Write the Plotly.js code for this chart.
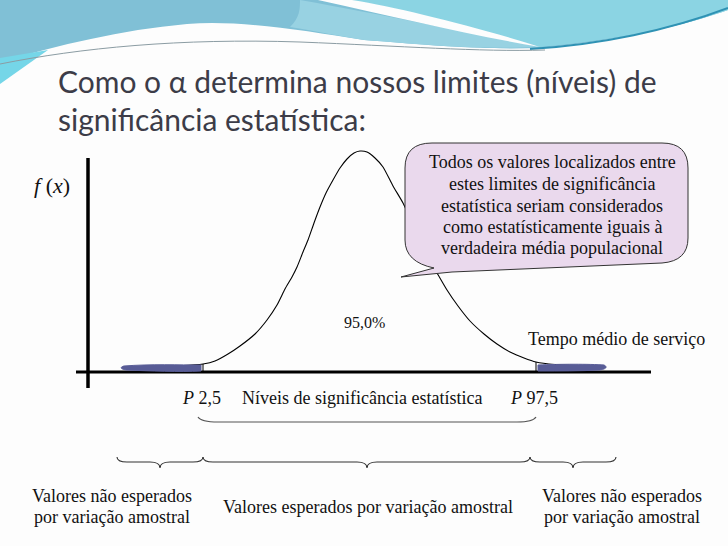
<!DOCTYPE html>
<html>
<head>
<meta charset="utf-8">
<script src="https://cdn.plot.ly/plotly-3.0.1.min.js"></script>
<style>html,body{margin:0;padding:0;background:#fdfdfd;}#chart{width:728px;height:546px;}</style>
</head>
<body>
<div id="chart"></div>
<script>
// ---- Data (x: tempo, arbitrary units; y: f(x)) ----
const curveX = [3.5, 5.2, 7.2, 9.2, 11.5, 12.7, 14.0, 15.2, 16.7, 17.9, 18.9, 19.7, 20.4, 20.9, 21.5, 22.0, 22.6, 23.2, 23.8, 24.5, 25.2, 25.9, 26.6, 27.2,
                27.9, 28.7, 29.5, 30.5, 31.5, 32.5, 33.4, 34.2, 34.9, 35.9, 37.0, 38.2, 39.6, 40.9, 42.2, 43.6, 44.8, 46.7, 48.7, 51.2];
const curveY = [0.005, 0.0052, 0.0055, 0.0062, 0.008, 0.011, 0.018, 0.026, 0.038, 0.052, 0.067, 0.083, 0.095, 0.105, 0.120, 0.132, 0.149, 0.165, 0.179, 0.192, 0.204, 0.213, 0.219, 0.221,
                0.220, 0.214, 0.205, 0.186, 0.169, 0.147, 0.127, 0.110, 0.099, 0.082, 0.066, 0.051, 0.038, 0.028, 0.020, 0.014, 0.010, 0.0075, 0.0065, 0.006];
const limitX = [11.5, 44.8];          // P 2,5 and P 97,5
const limitY = [0.008, 0.010];
const limitLabels = ["<i>P</i> 2,5", "<i>P</i> 97,5"];
const centerPct = "95,0%";
const titleLines = ["Como o α determina nossos limites (níveis) de", "significância estatística:"];
const calloutLines = ["Todos os valores localizados entre", "estes limites de significância", "estatística seriam considerados", "como estatísticamente iguais à", "verdadeira média populacional"];
const axisXLabel = "Tempo médio de serviço";
const axisYLabel = "<i>f</i> (<i>x</i>)";
const levelsLabel = "Níveis de significância estatística";
const sideLabel = ["Valores não esperados", "por variação amostral"];
const middleLabel = "Valores esperados por variação amostral";

// ---- layout helpers: page pixel -> axis units ----
const X = px => (px - 88) / 10;
const Y = py => (372 - py) / 1000;
function path(cmds) {
  return cmds.map(c => {
    const L = c[0]; const out = [];
    for (let i = 1; i < c.length; i += 2) out.push(X(c[i]).toFixed(3) + ',' + Y(c[i + 1]).toFixed(4));
    return L + out.join(' ');
  }).join(' ');
}
function brace(a, b, m, y0, y1, y2) {
  return path([['M', a, y0], ['Q', a, y1, a + 10, y1], ['L', m - 10, y1], ['Q', m, y1, m, y2], ['Q', m, y1, m + 10, y1], ['L', b - 10, y1], ['Q', b, y1, b, y0]]);
}

const serif = "Liberation Serif, Times New Roman, serif";
const shapes = [];
// banner
shapes.push({type: 'path', xref: 'x', yref: 'y', layer: 'below', line: {width: 0}, fillcolor: '#80c0d6',
  path: path([['M', 0, 0], ['L', 728, 0], ['L', 728, 10], ['C', 700, 20, 640, 38, 540, 48], ['C', 470, 50, 420, 44, 364, 40], ['C', 300, 30, 240, 20, 187, 24], ['C', 120, 30, 60, 45, 0, 62]]) + ' Z'});
shapes.push({type: 'path', xref: 'x', yref: 'y', layer: 'below', line: {width: 0}, fillcolor: '#98d2e2',
  path: path([['M', 300, 0], ['C', 400, 18, 470, 33, 540, 47], ['C', 470, 50, 420, 44, 364, 40], ['C', 340, 36, 320, 32, 290, 27], ['C', 300, 18, 300, 8, 300, 0]]) + ' Z'});
shapes.push({type: 'path', xref: 'x', yref: 'y', layer: 'below', line: {width: 0}, fillcolor: '#8bd4e3',
  path: path([['M', 350, 0], ['L', 728, 0], ['L', 728, 10], ['C', 700, 20, 640, 38, 540, 47], ['C', 470, 28, 420, 12, 350, 0]]) + ' Z'});
shapes.push({type: 'path', xref: 'x', yref: 'y', layer: 'below', line: {width: 0}, fillcolor: '#75d6e8',
  path: path([['M', 0, 58], ['L', 48, 50], ['L', 0, 84]]) + ' Z'});
shapes.push({type: 'path', xref: 'x', yref: 'y', layer: 'below', line: {width: 0}, fillcolor: '#fdfdfd',
  path: path([['M', 318, 0], ['L', 352, 0], ['C', 400, 8, 470, 25, 540, 47], ['C', 470, 35, 400, 18, 318, 0]]) + ' Z'});
shapes.push({type: 'path', xref: 'x', yref: 'y', layer: 'below', line: {width: 2, color: '#2f92b4'},
  path: path([['M', 530, 49], ['C', 600, 45, 670, 30, 728, 8]])});
shapes.push({type: 'path', xref: 'x', yref: 'y', layer: 'below', line: {width: 1, color: '#8b9ca3'},
  path: path([['M', 0, 64], ['C', 80, 48, 180, 38, 300, 42], ['C', 400, 46, 480, 52, 545, 50]])});
// axes
shapes.push({type: 'line', xref: 'x', yref: 'y', x0: X(88), x1: X(88), y0: Y(158), y1: Y(388), line: {color: '#000', width: 3.5}});
shapes.push({type: 'line', xref: 'x', yref: 'y', x0: X(76), x1: X(651), y0: 0, y1: 0, line: {color: '#000', width: 3}});
// blue brush marks in the tails
shapes.push({type: 'path', xref: 'x', yref: 'y', line: {width: 1, color: '#5a5e98'}, fillcolor: '#585c96',
  path: path([['M', 124, 366], ['C', 150, 364, 180, 365, 201, 365], ['L', 201, 371], ['C', 180, 372, 150, 371, 126, 370], ['C', 120, 369, 120, 367, 124, 366]]) + ' Z'});
shapes.push({type: 'path', xref: 'x', yref: 'y', line: {width: 1, color: '#5a5e98'}, fillcolor: '#585c96',
  path: path([['M', 538, 365], ['C', 560, 364, 590, 364, 604, 365], ['C', 608, 367, 606, 369, 600, 370], ['C', 580, 371, 560, 371, 538, 371]]) + ' Z'});
// limit ticks
for (let i = 0; i < limitX.length; i++) {
  shapes.push({type: 'line', xref: 'x', yref: 'y', x0: limitX[i], x1: limitX[i], y0: limitY[i], y1: 0, line: {color: '#000', width: 1}});
}
// callout
shapes.push({type: 'path', xref: 'x', yref: 'y', layer: 'above', line: {width: 1, color: '#333'}, fillcolor: '#ead9ed',
  path: path([['M', 432, 143], ['L', 662, 143], ['Q', 688, 143, 688, 168], ['L', 688, 238], ['Q', 688, 261, 662, 263], ['L', 452, 272], ['L', 401, 277], ['L', 434, 268], ['Q', 405, 262, 405, 240], ['L', 405, 168], ['Q', 405, 143, 432, 143]]) + ' Z'});
// braces
shapes.push({type: 'path', xref: 'x', yref: 'y', line: {width: 1.2, color: '#555'},
  path: path([['M', 198, 417], ['Q', 201, 422, 218, 422], ['L', 517, 422], ['Q', 533, 422, 536, 417]])});
shapes.push({type: 'path', xref: 'x', yref: 'y', line: {width: 1.1, color: '#333'}, path: brace(117, 203, 160, 457, 462, 468)});
shapes.push({type: 'path', xref: 'x', yref: 'y', line: {width: 1.1, color: '#333'}, path: brace(203, 530, 367, 457, 462, 468)});
shapes.push({type: 'path', xref: 'x', yref: 'y', line: {width: 1.1, color: '#333'}, path: brace(530, 616, 573, 457, 462, 468)});

const ann = [];
function txt(text, px, py, size, opts) {
  ann.push(Object.assign({text: text, x: X(px), y: Y(py), xref: 'x', yref: 'y', showarrow: false,
    font: {family: serif, size: size, color: '#111'}, xanchor: 'center', yanchor: 'middle'}, opts || {}));
}
const titleFont = {family: 'Lato, sans-serif', size: 30, color: '#3c3c48'};
txt(titleLines[0], 56, 81, 30, {xanchor: 'left', font: titleFont});
txt(titleLines[1], 56, 119, 30, {xanchor: 'left', font: titleFont});
txt(axisYLabel, 52, 185, 22);
txt(centerPct, 364, 322, 16);
txt(axisXLabel, 616, 339, 18);
txt(limitLabels[0], 201, 398, 18);
txt(levelsLabel, 362, 398, 18);
txt(limitLabels[1], 534, 398, 18);
const cy = [162, 184, 206, 227, 248];
calloutLines.forEach((t, i) => txt(t, 552, cy[i], 18));
txt(sideLabel[0], 112, 496, 18); txt(sideLabel[1], 112, 517, 18);
txt(middleLabel, 368, 507, 18);
txt(sideLabel[0], 622, 496, 18); txt(sideLabel[1], 622, 517, 18);

const traces = [{x: curveX, y: curveY, type: 'scatter', mode: 'lines', line: {color: '#000', width: 1.1, shape: 'spline', smoothing: 0.6}, hoverinfo: 'skip'}];

const layout = {
  width: 728, height: 546, margin: {l: 0, r: 0, t: 0, b: 0},
  paper_bgcolor: '#fdfdfd', plot_bgcolor: 'rgba(0,0,0,0)', showlegend: false,
  xaxis: {range: [X(0), X(728)], visible: false, fixedrange: true},
  yaxis: {range: [Y(546), Y(0)], visible: false, fixedrange: true},
  shapes: shapes, annotations: ann
};
Plotly.newPlot('chart', traces, layout, {staticPlot: true, displayModeBar: false});
</script>
</body>
</html>
